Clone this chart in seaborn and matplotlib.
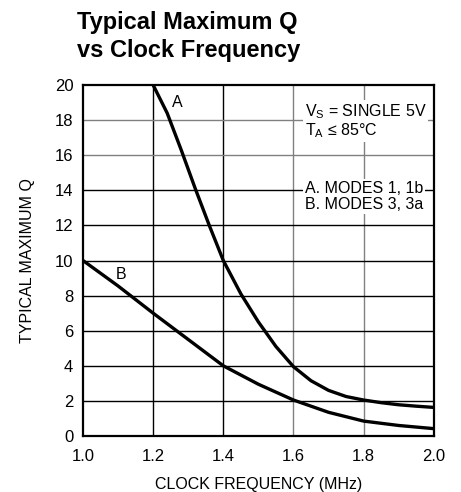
import pandas as pd
import seaborn as sns
import matplotlib.pyplot as plt

# values
freq_a = [1.2, 1.24, 1.28, 1.32, 1.36, 1.4, 1.45, 1.5, 1.55, 1.6, 1.65, 1.7, 1.75, 1.8, 1.85, 1.9, 1.95, 2.0]
q_a = [20.0, 18.4, 16.3, 14.1, 12.0, 10.0, 8.1, 6.5, 5.1, 3.95, 3.15, 2.6, 2.25, 2.05, 1.9, 1.78, 1.7, 1.63]
freq_b = [1.0, 1.1, 1.2, 1.3, 1.4, 1.5, 1.6, 1.7, 1.8, 1.9, 2.0]
q_b = [10.0, 8.55, 7.0, 5.5, 4.0, 2.95, 2.05, 1.35, 0.85, 0.6, 0.42]
x_ticks = [1.0, 1.2, 1.4, 1.6, 1.8, 2.0]
y_ticks = [0, 2, 4, 6, 8, 10, 12, 14, 16, 18, 20]

df = pd.concat([
    pd.DataFrame({'freq': freq_a, 'q': q_a, 'curve': 'A'}),
    pd.DataFrame({'freq': freq_b, 'q': q_b, 'curve': 'B'}),
])

sns.set_style('white')
plt.rcParams['font.family'] = ['Liberation Sans Narrow', 'Liberation Sans', 'DejaVu Sans']
plt.rcParams['text.color'] = 'black'
plt.rcParams['axes.labelcolor'] = 'black'
plt.rcParams['xtick.color'] = 'black'
plt.rcParams['ytick.color'] = 'black'

fig = plt.figure(figsize=(4.61, 4.92), dpi=100)
ax = fig.add_axes([0.180, 0.1138, 0.761, 0.7134])

# grid
for x in x_ticks[1:-1]:
    ax.axvline(x, color='#808080' if x > 1.5 else 'black', lw=1, zorder=1)
for y in y_ticks[1:-1]:
    ax.axhline(y, color='#808080' if y in (16, 18) else 'black', lw=1, zorder=1)

sns.lineplot(data=df, x='freq', y='q', units='curve', estimator=None,
             color='black', lw=2.4, ax=ax, zorder=3, legend=False)

ax.set_xlim(1.0, 2.0)
ax.set_ylim(0, 20)
ax.set_xticks(x_ticks)
ax.set_xticklabels([f'{v:.1f}' for v in x_ticks])
ax.set_yticks(y_ticks)
ax.tick_params(length=0, labelsize=12)
ax.tick_params(axis='x', pad=9)
ax.tick_params(axis='y', pad=7)
for s in ax.spines.values():
    s.set_color('black')
    s.set_linewidth(1.6)

ax.set_xlabel('CLOCK FREQUENCY (MHz)', fontsize=11.5, labelpad=10)
ax.set_ylabel('TYPICAL MAXIMUM Q', fontsize=11.5, labelpad=14)

ax.text(1.255, 19.0, 'A', fontsize=11.5, ha='left', va='center', zorder=4)
ax.text(1.093, 9.2, 'B', fontsize=11.5, ha='left', va='center', zorder=4)

box = dict(facecolor='white', edgecolor='none', pad=1.5)
ax.text(1.632, 17.95, '$\\mathregular{V_S}$ = SINGLE 5V\n$\\mathregular{T_A}$ ≤ 85°C', fontsize=11.5,
        ha='left', va='center', linespacing=1.0, bbox=box, zorder=4)
ax.text(1.632, 13.65, 'A. MODES 1, 1b\nB. MODES 3, 3a', fontsize=11.5,
        ha='left', va='center', linespacing=1.05, bbox=box, zorder=4)

fig.text(0.168, 0.977, 'Typical Maximum Q\nvs Clock Frequency', fontsize=17,
         fontweight='bold', ha='left', va='top', linespacing=1.25)

fig.savefig('out.png', dpi=100)
